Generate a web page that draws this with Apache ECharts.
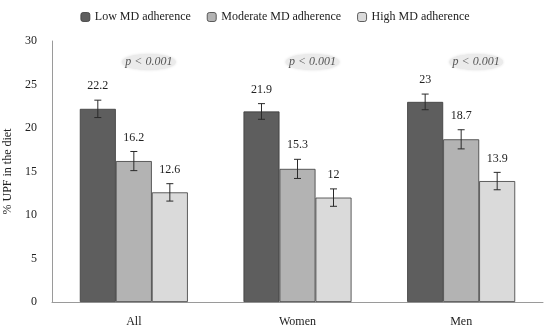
<!DOCTYPE html>
<html><head><meta charset="utf-8">
<script src="https://cdn.jsdelivr.net/npm/echarts@6/dist/echarts.min.js"></script>
<style>html,body{margin:0;padding:0;background:#fff}#c{width:550px;height:334px}</style>
</head><body><div id="c"></div>
<script>
const categories = ['All', 'Women', 'Men'];
const seriesNames = ['Low MD adherence', 'Moderate MD adherence', 'High MD adherence'];
const lowValues = [22.2, 21.9, 23];
const moderateValues = [16.2, 15.3, 18.7];
const highValues = [12.6, 12, 13.9];
const lowErr = [1.0, 0.9, 0.9];
const moderateErr = [1.1, 1.1, 1.1];
const highErr = [1.0, 1.0, 1.0];
const pLabels = ['p < 0.001', 'p < 0.001', 'p < 0.001'];
const pLevel = 27.6;
const yTicks = [0, 5, 10, 15, 20, 25, 30];

const colors = ['#5e5e5e', '#b3b3b3', '#dadada'];
const FONT = '"Liberation Serif", "DejaVu Serif", serif';
const valuesAll = [lowValues, moderateValues, highValues];
const errsAll = [lowErr, moderateErr, highErr];

const chart = echarts.init(document.getElementById('c'));

const barSeries = valuesAll.map((vals, i) => ({
  name: seriesNames[i], type: 'bar', data: vals,
  barGap: '0%', barCategoryGap: '34%',
  itemStyle: { color: colors[i], borderColor: '#3a3a3a', borderWidth: 0.8 },
  emphasis: { disabled: true }
}));

function errRender(sIdx) {
  return function (params, api) {
    const ci = api.value(0);
    const v = api.value(1), e = api.value(2);
    const bw = api.size([1, 0])[0];
    const barW = bw * 0.66 / 3;
    const cx = api.coord([ci, 0])[0] + (sIdx - 1) * barW;
    const top = api.coord([ci, v + e]);
    const bot = api.coord([ci, v - e]);
    const cap = 3.5;
    const st = { stroke: '#2a2a2a', lineWidth: 1 };
    return { type: 'group', children: [
      { type: 'line', shape: { x1: cx, y1: top[1], x2: cx, y2: bot[1] }, style: st },
      { type: 'line', shape: { x1: cx - cap, y1: top[1], x2: cx + cap, y2: top[1] }, style: st },
      { type: 'line', shape: { x1: cx - cap, y1: bot[1], x2: cx + cap, y2: bot[1] }, style: st },
      { type: 'text', x: cx, y: top[1] - 14, style: { text: String(v), fill: '#222', font: '12px ' + FONT, align: 'center', verticalAlign: 'middle' } }
    ] };
  };
}

const errSeries = valuesAll.map((vals, i) => ({
  type: 'custom', renderItem: errRender(i), z: 5,
  data: vals.map((v, ci) => [ci, v, errsAll[i][ci]]),
  silent: true
}));

const pSeries = {
  type: 'custom', z: 4, silent: true,
  data: pLabels.map((t, ci) => [ci, pLevel, t]),
  renderItem: function (params, api) {
    const ci = api.value(0);
    const c = api.coord([ci, api.value(1)]);
    const x = c[0] + 15, y = c[1];
    return { type: 'group', children: [
      { type: 'ellipse', shape: { cx: x, cy: y, rx: 27, ry: 8 }, style: { fill: '#ebebeb', shadowBlur: 3, shadowColor: '#e0e0e0' } },
      { type: 'text', x: x, y: y, style: { text: pLabels[ci], fill: '#555', font: 'italic 12px ' + FONT, align: 'center', verticalAlign: 'middle' } }
    ] };
  }
};

chart.setOption({
  animation: false,
  color: colors,
  legend: {
    top: 6, left: 'center', itemWidth: 9, itemHeight: 9, itemGap: 16,
    textStyle: { fontFamily: FONT, fontSize: 12, color: '#222' },
    data: seriesNames.map((n, i) => ({ name: n, itemStyle: { color: colors[i], borderColor: '#3a3a3a', borderWidth: 0.8 } }))
  },
  grid: { left: 52, right: 7, top: 41, bottom: 32, containLabel: false, outerBoundsMode: 'none' },
  xAxis: {
    type: 'category', data: categories,
    axisLine: { lineStyle: { color: '#9a9a9a', width: 1 } },
    axisTick: { show: false },
    axisLabel: { fontFamily: FONT, fontSize: 12, color: '#222', margin: 14 }
  },
  yAxis: {
    type: 'value', min: yTicks[0], max: yTicks[yTicks.length - 1], interval: 5,
    name: '% UPF in the diet', nameLocation: 'middle', nameGap: 30,
    nameTextStyle: { fontFamily: FONT, fontSize: 12, color: '#222' },
    axisLine: { show: true, lineStyle: { color: '#9a9a9a', width: 1 } },
    axisTick: { show: false },
    splitLine: { show: false },
    axisLabel: { fontFamily: FONT, fontSize: 12, color: '#222', margin: 15 }
  },
  series: [...barSeries, ...errSeries, pSeries]
});
</script></body></html>
